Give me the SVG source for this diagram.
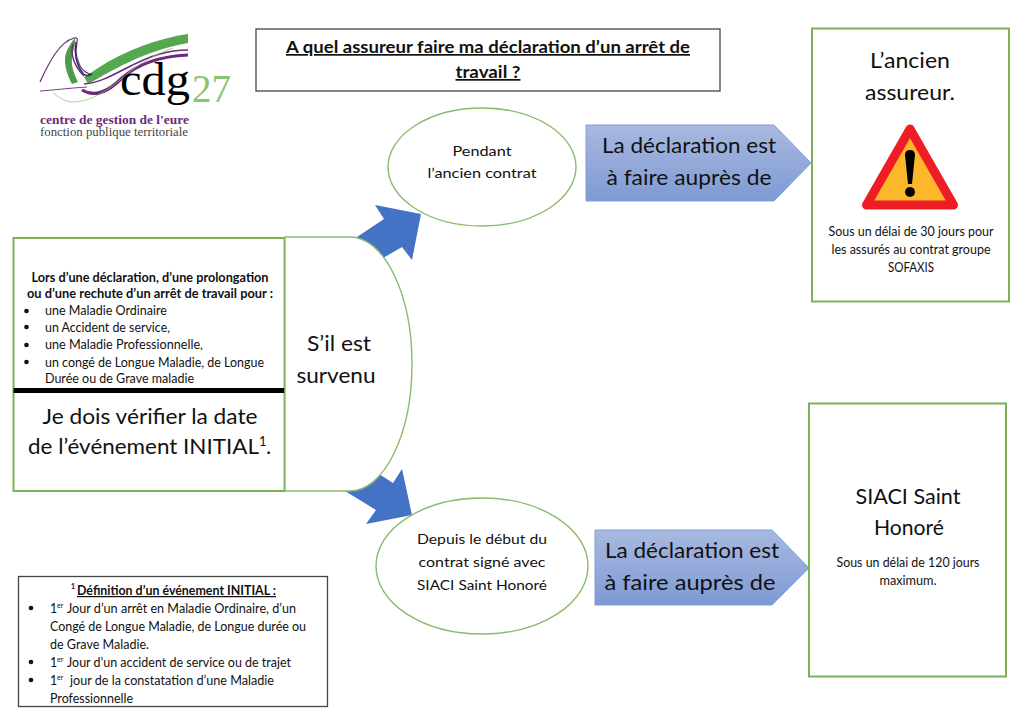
<svg xmlns="http://www.w3.org/2000/svg" width="1024" height="725" viewBox="0 0 1024 725">
<style>
text{font-family:Lato,"Liberation Sans",sans-serif;fill:#111}
.g{fill:#fff;stroke:#7ab356;stroke-width:2}
.t{fill:#fff;stroke:#8abb6c;stroke-width:1.4}
.k{fill:#fff;stroke:#444;stroke-width:1.3}
.a{fill:#4472c4}
.h{fill:url(#pg);stroke:#7f9fd6;stroke-width:1}
.s{font-size:12.4px}
.m{font-size:13.5px}
.l{font-size:22px}
.c{text-anchor:middle}
.b{font-weight:700}
.bu{fill:#111}
.pl{fill:none;stroke:#6d2a7c}
.lg{font-family:"Liberation Serif",serif}
</style>
<defs>
<linearGradient id="pg" x1="0" y1="0" x2="0" y2="1"><stop offset="0" stop-color="#a9b9e0"/><stop offset="1" stop-color="#7e9ad3"/></linearGradient>
</defs>
<rect width="1024" height="725" fill="#fff"/>
<g id="logo">
<path class="pl" stroke-width="1.2" d="M40 82C50 60 60 42 74 38C82 36 72 50 78 60C80 70 88 76 96 74"/>
<path d="M188 34C160 38 125 50 98 68C92 72 88 75 84 77L88 84C110 72 140 52 188 43Z" fill="#55a84f"/>
<path d="M75 38C70 44 65 52 65 60C65 70 69 78 72 84L78 82C74 74 71 66 72 58C73 50 76 44 75 38Z" fill="#4f9a4c"/>
<path fill="none" stroke="#2f2a6e" stroke-width="1.4" d="M76 42C74 52 76 64 82 72C84 76 88 76 92 74"/>
<path class="pl" stroke-width="1.4" d="M73 44C70 54 74 66 84 76"/>
<path class="pl" stroke-width="1.6" d="M84 84C110 82 130 62 160 54C170 51 180 50 188 50"/>
<path class="pl" stroke-width="3.2" d="M82 90C95 98 108 92 122 78C140 62 165 56 188 55"/>
<path class="pl" stroke-width=".9" d="M40 91C55 90 70 88 87 87"/>
<path fill="none" stroke="#86c66f" stroke-width=".7" d="M53 93C62 100 68 102 73 102C90 102 105 92 120 80C135 66 155 54 173 48"/>
<text class="lg" x="120" y="95" font-size="47" style="fill:#000" textLength="70" lengthAdjust="spacingAndGlyphs">cdg</text>
<text class="lg" x="192" y="102" font-size="40" style="fill:#86c66f" textLength="39" lengthAdjust="spacingAndGlyphs">27</text>
<text class="lg" x="40" y="124" font-size="12" font-weight="700" style="fill:#6d2a7c" textLength="149" lengthAdjust="spacingAndGlyphs">centre de gestion de l'eure</text>
<text class="lg" x="40" y="136" font-size="11.500" style="fill:#444" textLength="148" lengthAdjust="spacingAndGlyphs">fonction publique territoriale</text>
</g>
<g id="connectors">
<path class="a" d="M357 237L384 219L375 205L421 214L412 260L402 247L383 258L370 250Z"/>
<path class="a" d="M345 491L376 510L366 524L412 515L402 469L393 483L365 465Z"/>
</g>
<g id="title">
<rect class="k" x="256" y="29" width="464" height="62"/>
<text class="c b" x="488" y="53" font-size="17" text-decoration="underline" textLength="404" lengthAdjust="spacingAndGlyphs">A quel assureur faire ma déclaration d’un arrêt de</text>
<text class="c b" x="488" y="78" font-size="17" text-decoration="underline" textLength="65" lengthAdjust="spacingAndGlyphs">travail ?</text>
</g>
<g id="node-left">
<rect class="g" x="13.500" y="238" width="271" height="253"/>
<rect x="13.500" y="388" width="271" height="5" fill="#000"/>
<text class="c s b" x="150" y="282" textLength="237" lengthAdjust="spacingAndGlyphs">Lors d’une déclaration, d’une prolongation</text>
<text class="c s b" x="150" y="298" textLength="246" lengthAdjust="spacingAndGlyphs">ou d’une rechute d’un arrêt de travail pour :</text>
<circle class="bu" cx="26.500" cy="311" r="2.300"/><circle class="bu" cx="26.500" cy="327" r="2.300"/><circle class="bu" cx="26.500" cy="345" r="2.300"/><circle class="bu" cx="26.500" cy="362" r="2.300"/>
<text class="s" x="45" y="315" textLength="122" lengthAdjust="spacingAndGlyphs">une Maladie Ordinaire</text>
<text class="s" x="45" y="332" textLength="125" lengthAdjust="spacingAndGlyphs">un Accident de service,</text>
<text class="s" x="45" y="349" textLength="158" lengthAdjust="spacingAndGlyphs">une Maladie Professionnelle,</text>
<text class="s" x="45" y="367" textLength="219" lengthAdjust="spacingAndGlyphs">un congé de Longue Maladie, de Longue</text>
<text class="s" x="45" y="383" textLength="149" lengthAdjust="spacingAndGlyphs">Durée ou de Grave maladie</text>
<text class="c l" x="150" y="424" textLength="215" lengthAdjust="spacingAndGlyphs">Je dois vérifier la date</text>
<text class="l" x="28" y="454" textLength="231" lengthAdjust="spacingAndGlyphs">de l’événement INITIAL</text>
<text x="259" y="446" font-size="13">1</text>
<text class="l" x="266" y="454">.</text>
</g>
<g id="node-survenu">
<path class="t" d="M285 237H350A62 127 0 0 1 350 491H285Z"/>
<text class="c l" x="339" y="351" textLength="64" lengthAdjust="spacingAndGlyphs">S’il est</text>
<text class="c l" x="336" y="383" textLength="79" lengthAdjust="spacingAndGlyphs">survenu</text>
</g>
<g id="node-pendant">
<ellipse class="t" cx="482" cy="167" rx="94" ry="59"/>
<text class="c m" x="482" y="156" textLength="59" lengthAdjust="spacingAndGlyphs">Pendant</text>
<text class="c m" x="482" y="178" textLength="109" lengthAdjust="spacingAndGlyphs">l’ancien contrat</text>
</g>
<g id="node-depuis">
<ellipse class="t" cx="482" cy="566" rx="106" ry="68"/>
<text class="c m" x="482" y="544" textLength="130" lengthAdjust="spacingAndGlyphs">Depuis le début du</text>
<text class="c m" x="482" y="567" textLength="127" lengthAdjust="spacingAndGlyphs">contrat signé avec</text>
<text class="c m" x="482" y="590" textLength="130" lengthAdjust="spacingAndGlyphs">SIACI Saint Honoré</text>
</g>
<g id="node-decl-1">
<path class="h" d="M586 125H774L811 163L774 201H586Z"/>
<text class="c l" x="689" y="153" textLength="174" lengthAdjust="spacingAndGlyphs">La déclaration est</text>
<text class="c l" x="689" y="185" textLength="165" lengthAdjust="spacingAndGlyphs">à faire auprès de</text>
</g>
<g id="node-decl-2">
<path class="h" d="M595 530H772L809 568L772 605H595Z"/>
<text class="c l" x="692" y="558" textLength="174" lengthAdjust="spacingAndGlyphs">La déclaration est</text>
<text class="c l" x="690" y="590" textLength="171" lengthAdjust="spacingAndGlyphs">à faire auprès de</text>
</g>
<g id="node-ancien">
<rect class="g" x="812" y="28.500" width="197" height="273"/>
<text class="c l" x="910" y="68" textLength="80" lengthAdjust="spacingAndGlyphs">L’ancien</text>
<text class="c l" x="910" y="100" textLength="90" lengthAdjust="spacingAndGlyphs">assureur.</text>
<path d="M910 129L953.500 205H866.500Z" fill="#fdb72b" stroke="#ee1c25" stroke-width="9" stroke-linejoin="round"/>
<path d="M905 155Q905 150 910 150Q915 150 915 155L912 184H908Z" fill="#000"/>
<circle cx="910" cy="192" r="5" fill="#000"/>
<text class="c s" x="911" y="236" textLength="165" lengthAdjust="spacingAndGlyphs">Sous un délai de 30 jours pour</text>
<text class="c s" x="911" y="254" textLength="159" lengthAdjust="spacingAndGlyphs">les assurés au contrat groupe</text>
<text class="c s" x="911" y="272" textLength="46" lengthAdjust="spacingAndGlyphs">SOFAXIS</text>
</g>
<g id="node-siaci">
<rect class="g" x="809" y="403.500" width="197" height="273"/>
<text class="c l" x="908" y="504" textLength="105" lengthAdjust="spacingAndGlyphs">SIACI Saint</text>
<text class="c l" x="909" y="535" textLength="70" lengthAdjust="spacingAndGlyphs">Honoré</text>
<text class="c s" x="908" y="567" textLength="143" lengthAdjust="spacingAndGlyphs">Sous un délai de 120 jours</text>
<text class="c s" x="908" y="585" textLength="57" lengthAdjust="spacingAndGlyphs">maximum.</text>
</g>
<g id="node-definition">
<rect class="k" x="18.500" y="576.500" width="309" height="130"/>
<text x="71" y="589" font-size="7" class="b">1</text>
<text class="s b" x="77" y="595" text-decoration="underline" textLength="199" lengthAdjust="spacingAndGlyphs">Définition d’un événement INITIAL :</text>
<circle class="bu" cx="31" cy="608" r="2.300"/><circle class="bu" cx="31" cy="662" r="2.300"/><circle class="bu" cx="31" cy="680" r="2.300"/>
<text class="s" x="50" y="613">1</text><text x="57" y="608" font-size="7">er</text>
<text class="s" x="67" y="613" textLength="229" lengthAdjust="spacingAndGlyphs">Jour d’un arrêt en Maladie Ordinaire, d’un</text>
<text class="s" x="50" y="631" textLength="256" lengthAdjust="spacingAndGlyphs">Congé de Longue Maladie, de Longue durée ou</text>
<text class="s" x="50" y="649" textLength="99" lengthAdjust="spacingAndGlyphs">de Grave Maladie.</text>
<text class="s" x="50" y="667">1</text><text x="57" y="662" font-size="7">er</text>
<text class="s" x="67" y="667" textLength="224" lengthAdjust="spacingAndGlyphs">Jour d’un accident de service ou de trajet</text>
<text class="s" x="50" y="685">1</text><text x="57" y="680" font-size="7">er</text>
<text class="s" x="70" y="685" textLength="204" lengthAdjust="spacingAndGlyphs">jour de la constatation d’une Maladie</text>
<text class="s" x="50" y="703" textLength="83" lengthAdjust="spacingAndGlyphs">Professionnelle</text>
</g>
</svg>
